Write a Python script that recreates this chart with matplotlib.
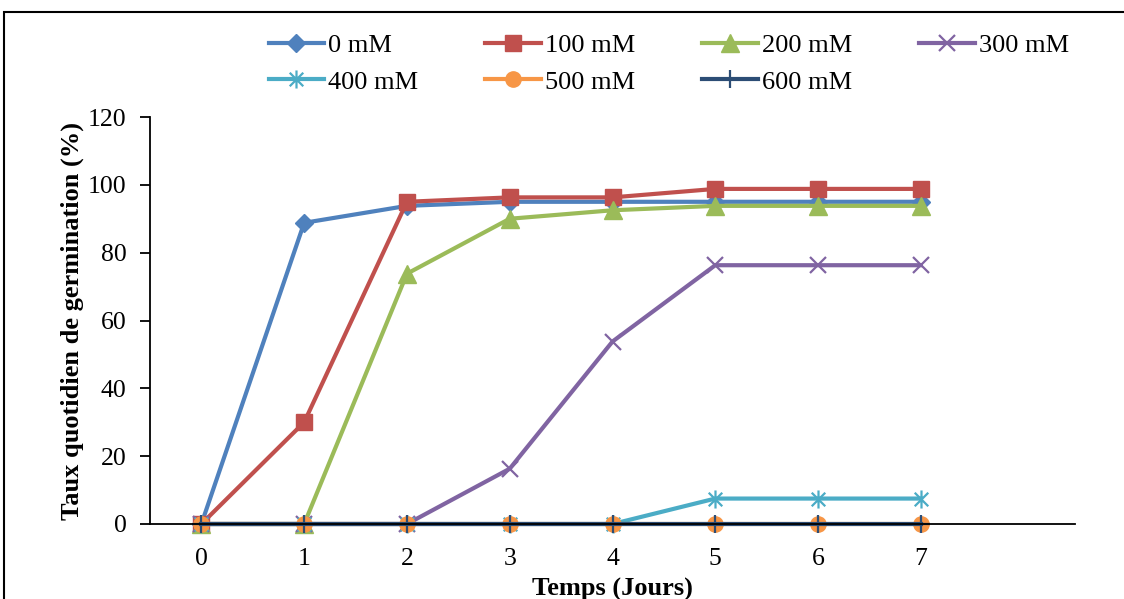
import matplotlib
matplotlib.use("Agg")
import matplotlib.pyplot as plt
from matplotlib.path import Path
from matplotlib.patches import Rectangle

plt.rcParams["font.family"] = ["Liberation Serif", "DejaVu Serif"]

# ---- data ----
days = [0, 1, 2, 3, 4, 5, 6, 7]
labels = ["0 mM", "100 mM", "200 mM", "300 mM", "400 mM", "500 mM", "600 mM"]
mm0 = [0, 88.8, 93.8, 95.0, 95.0, 95.0, 95.0, 95.0]
mm100 = [0, 30.0, 95.0, 96.3, 96.3, 98.8, 98.8, 98.8]
mm200 = [0, 0, 73.8, 90.0, 92.5, 93.8, 93.8, 93.8]
mm300 = [0, 0, 0, 16.3, 53.8, 76.3, 76.3, 76.3]
mm400 = [0, 0, 0, 0, 0, 7.5, 7.5, 7.5]
mm500 = [0, 0, 0, 0, 0, 0, 0, 0]
mm600 = [0, 0, 0, 0, 0, 0, 0, 0]
series = [mm0, mm100, mm200, mm300, mm400, mm500, mm600]

# Excel-like star: vertical bar plus two diagonals
star = Path([(0, -1), (0, 1), (-0.75, -0.75), (0.75, 0.75), (-0.75, 0.75), (0.75, -0.75)],
            [Path.MOVETO, Path.LINETO, Path.MOVETO, Path.LINETO, Path.MOVETO, Path.LINETO])

styles = [
    dict(color="#4F81BD", marker="D", ms=9),
    dict(color="#C0504D", marker="s", ms=12),
    dict(color="#9BBB59", marker="^", ms=13),
    dict(color="#8064A2", marker="x", ms=12, mew=1.6),
    dict(color="#4BACC6", marker=star, ms=13, mew=1.6),
    dict(color="#F79646", marker="o", ms=11),
    dict(color="#2C4D75", marker="+", ms=13, mew=1.6),
]

fig = plt.figure(figsize=(11.24, 5.99), dpi=100)
ax = fig.add_axes([150 / 1124, 1 - 524 / 599, (1075 - 150) / 1124, (524 - 117) / 599])

lines = []
for vals, lab, st in zip(series, labels, styles):
    ln, = ax.plot(days, vals, lw=3, label=lab, clip_on=False, **st)
    lines.append(ln)

ax.set_xlim(-0.5, 8.5)
ax.set_ylim(0, 120)
ax.set_xticks(days)
ax.set_yticks(range(0, 121, 20))
ax.spines["top"].set_visible(False)
ax.spines["right"].set_visible(False)
ax.spines["left"].set_linewidth(1.3)
ax.spines["bottom"].set_linewidth(1.3)
ax.tick_params(axis="y", direction="out", length=7, width=1.3, labelsize=18.5, pad=10)
ax.tick_params(axis="x", length=0, labelsize=18.5, pad=17)

ax.set_xlabel("Temps (Jours)", fontsize=19, fontweight="bold", labelpad=6)
ax.set_ylabel("Taux quotidien de germination (%)", fontsize=19, fontweight="bold", labelpad=3)

# row-major legend order (matplotlib fills columns first)
order = [0, 4, 1, 5, 2, 6, 3]
fig.legend([lines[i] for i in order], [labels[i] for i in order],
           loc="upper left", bbox_to_anchor=(258 / 1124, 1 - 23 / 599), ncol=4,
           frameon=False, fontsize=19, handlelength=2.1, handletextpad=0.15,
           columnspacing=2.55, labelspacing=0.5, borderaxespad=0)

# chart border (top and left visible)
fig.patches.append(Rectangle((4 / 1124, -0.2), 1.2, 1.2 - 12 / 599, transform=fig.transFigure,
                             fill=False, edgecolor="black", lw=1.5))

fig.savefig("out.png", dpi=100)
